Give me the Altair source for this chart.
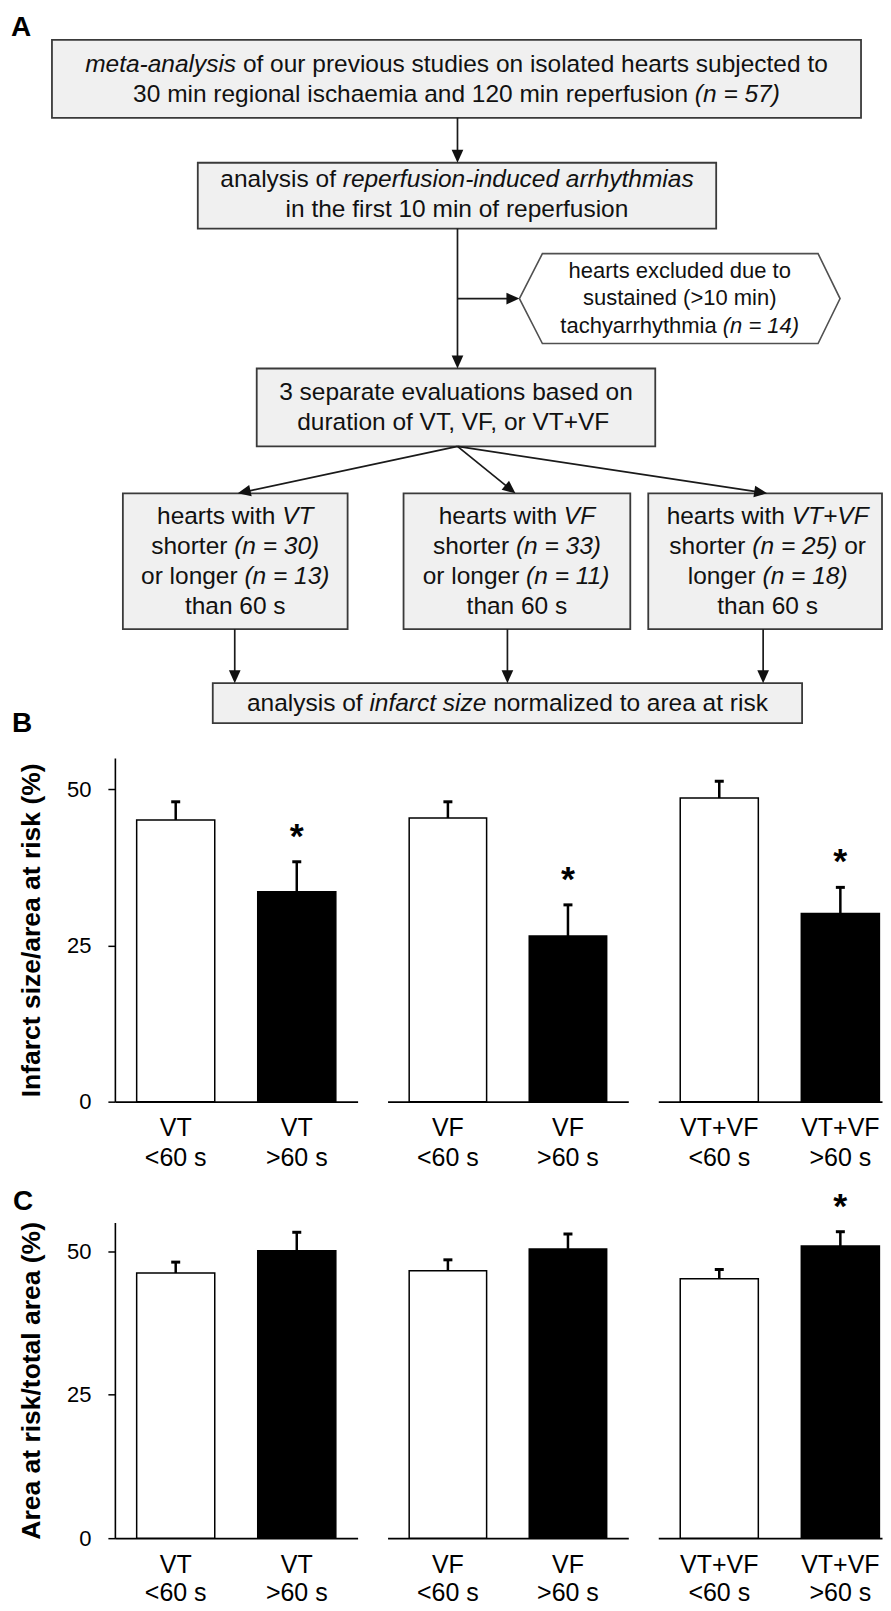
import math
import altair as alt
import pandas as pd

FONT = "Liberation Sans"

# ---------------- Panels B / C : values ----------------
groups = ["VT", "VF", "VT+VF"]
durations = ["<60 s", ">60 s"]
infarct_mean = [45.1, 33.6, 45.4, 26.5, 48.6, 30.1]
infarct_upper = [48.0, 38.4, 48.0, 31.5, 51.3, 34.3]
infarct_sig = [False, True, False, True, False, True]
risk_mean = [46.2, 50.1, 46.6, 50.4, 45.2, 50.9]
risk_upper = [48.1, 53.3, 48.5, 53.0, 46.8, 53.4]
risk_sig = [False, False, False, False, False, True]
y_ticks = [0, 25, 50]
y_max = 55
title_B = "Infarct size/area at risk (%)"
title_C = "Area at risk/total area (%)"

# ---------------- Panel A : flow-chart texts (segment, italic) ----------------
txt_start = [[("meta-analysis", True), (" of our previous studies on isolated hearts subjected to", False)],
             [("30 min regional ischaemia and 120 min reperfusion ", False), ("(n = 57)", True)]]
txt_arrh = [[("analysis of ", False), ("reperfusion-induced arrhythmias", True)],
            [("in the first 10 min of reperfusion", False)]]
txt_excl = [[("hearts excluded due to", False)],
            [("sustained (>10 min)", False)],
            [("tachyarrhythmia ", False), ("(n = 14)", True)]]
txt_eval = [[("3 separate evaluations based on", False)],
            [("duration of VT, VF, or VT+VF", False)]]
txt_vt = [[("hearts with ", False), ("VT", True)],
          [("shorter ", False), ("(n = 30)", True)],
          [("or longer ", False), ("(n = 13)", True)],
          [("than 60 s", False)]]
txt_vf = [[("hearts with ", False), ("VF", True)],
          [("shorter ", False), ("(n = 33)", True)],
          [("or longer ", False), ("(n = 11)", True)],
          [("than 60 s", False)]]
txt_vtvf = [[("hearts with ", False), ("VT+VF", True)],
            [("shorter ", False), ("(n = 25)", True), (" or", False)],
            [("longer ", False), ("(n = 18)", True)],
            [("than 60 s", False)]]
txt_final = [[("analysis of ", False), ("infarct size", True), (" normalized to area at risk", False)]]
panel_letters = ["A", "B", "C"]

# ---------------- Flow-chart layout (page coordinates) ----------------
box_layout = [
    (51, 861, 39, 117, 456, [64.3, 94.6], 24.5, txt_start),
    (197, 716, 162, 228, 456.5, [179.5, 209.5], 24.5, txt_arrh),
    (256, 655, 368, 446, 455.5, [392.7, 422.3], 24.5, txt_eval),
    (122, 347, 493, 629, 234.5, [517, 546.8, 576.5, 606.3], 24.5, txt_vt),
    (403, 630, 493, 629, 516.5, [517, 546.8, 576.5, 606.3], 24.5, txt_vf),
    (648, 882, 493, 629, 767.5, [517, 546.8, 576.5, 606.3], 24.5, txt_vtvf),
    (212, 802, 683, 723, 507, [704], 24.5, txt_final),
]
hex_pts = [(519, 298), (542, 253), (818, 253), (840, 298), (818, 343), (542, 343), (519, 298)]
hex_text = (679.5, [270, 297.5, 325], 22, txt_excl)
arrow_segs = [
    (457, 117, 457, 162), (457, 228, 457, 368), (457, 298, 519, 298),
    (457, 446, 237, 493), (457, 446, 515, 493), (457, 446, 767, 493),
    (234, 629, 234, 683), (507, 629, 507, 683), (763, 629, 763, 683),
]
letter_pos = [(10, 35, "A"), (11, 732, "B")]

# Arial / Liberation Sans advance widths (1/1000 em)
W = {' ': 278, '(': 333, ')': 333, '+': 584, ',': 278, '-': 333, '.': 278, '/': 278,
     '<': 584, '=': 584, '>': 584, 'A': 667, 'B': 667, 'C': 722, 'F': 611, 'T': 611, 'V': 667,
     'a': 556, 'b': 556, 'c': 500, 'd': 556, 'e': 556, 'f': 278, 'g': 556, 'h': 556, 'i': 222,
     'j': 222, 'k': 500, 'l': 222, 'm': 833, 'n': 556, 'o': 556, 'p': 556, 'q': 556, 'r': 333,
     's': 500, 't': 278, 'u': 556, 'v': 500, 'w': 722, 'x': 500, 'y': 500, 'z': 500}
for d in "0123456789":
    W[d] = 556


def tw(s, fs):
    return sum(W.get(c, 556) for c in s) * fs / 1000.0


text_rows = []


def add_text(cx, ys, fs, lines):
    for ly, segs in zip(ys, lines):
        total = sum(tw(s, fs) for s, _ in segs)
        x0 = cx - total / 2
        for s, it in segs:
            lead = len(s) - len(s.lstrip())
            t = s.strip()
            if t:
                text_rows.append({"x": x0 + tw(s[:lead], fs), "y": ly, "t": t, "fs": fs, "it": it})
            x0 += tw(s, fs)


for (x1, x2, y1, y2, cx, ys, fs, lines) in box_layout:
    add_text(cx, ys, fs, lines)
add_text(*hex_text)

boxes_df = pd.DataFrame([{"x1": b[0], "x2": b[1], "y1": b[2], "y2": b[3]} for b in box_layout])
hex_df = pd.DataFrame([{"x": p[0], "y": p[1], "i": i} for i, p in enumerate(hex_pts)])
text_df = pd.DataFrame(text_rows)

HEAD = 13.0
line_rows, head_rows = [], []
for (xa, ya, xb, yb) in arrow_segs:
    dx, dy = xb - xa, yb - ya
    L = math.hypot(dx, dy)
    ux, uy = dx / L, dy / L
    line_rows.append({"x": xa, "y": ya, "x2": xb - ux * (HEAD - 2), "y2": yb - uy * (HEAD - 2)})
    head_rows.append({"x": xb, "y": yb, "ang": math.degrees(math.atan2(-dx, dy)) % 360})
lines_df = pd.DataFrame(line_rows)
heads_df = pd.DataFrame(head_rows)
letters_df = pd.DataFrame([{"x": l[0], "y": l[1], "t": l[2]} for l in letter_pos])

# panel A plot area starts at the same x as the bar panels' y axis (page x 114)
XS = alt.Scale(domain=[114, 883], nice=False, zero=False)
YS = alt.Scale(domain=[745, 8], nice=False, zero=False)


def PX(f):
    return alt.X(f, type="quantitative", scale=XS, axis=None)


def PY(f):
    return alt.Y(f, type="quantitative", scale=YS, axis=None)


rects = alt.Chart(boxes_df).mark_rect(fill="#f0f0f0", stroke="#3a3a3a", strokeWidth=1.8, opacity=1).encode(
    x=PX("x1"), x2="x2:Q", y=PY("y1"), y2="y2:Q")
hexagon = alt.Chart(hex_df).mark_line(color="#505050", strokeWidth=1.6, strokeJoin="miter").encode(
    x=PX("x"), y=PY("y"), order="i:Q")
arrows = alt.Chart(lines_df).mark_rule(color="#1a1a1a", strokeWidth=1.7).encode(
    x=PX("x"), y=PY("y"), x2="x2:Q", y2="y2:Q")
heads = alt.Chart(heads_df).mark_point(
    shape="M0,0L-0.45,-1L0.45,-1Z", filled=True, size=(2 * HEAD) ** 2, color="#111111", opacity=1, strokeWidth=0
).encode(x=PX("x"), y=PY("y"), angle=alt.Angle("ang:Q", scale=None))
txt_reg = alt.Chart(text_df).transform_filter("!datum.it").mark_text(
    align="left", baseline="middle", font=FONT, color="#111111").encode(
    x=PX("x"), y=PY("y"), text="t:N", size=alt.Size("fs:Q", scale=None))
txt_it = alt.Chart(text_df).transform_filter("datum.it").mark_text(
    align="left", baseline="middle", font=FONT, fontStyle="italic", color="#111111").encode(
    x=PX("x"), y=PY("y"), text="t:N", size=alt.Size("fs:Q", scale=None))
letters = alt.Chart(letters_df).mark_text(
    align="left", baseline="alphabetic", font=FONT, fontWeight="bold", fontSize=28, color="black").encode(
    x=PX("x"), y=PY("y"), text="t:N")

panel_A = alt.layer(rects, hexagon, arrows, heads, txt_reg, txt_it, letters).properties(width=769, height=737)

# ---------------- bar panels ----------------
widths = [243, 241, 224]
pad_outer = [0.18, 0.18, 0.1015]
aligns = [0.5, 0.5, 0.894]


def make_group(means, uppers, sigs, gi, ytitle, height, letter, lab_pad, lab_lh):
    df = pd.DataFrame({
        "label": [f"{groups[gi]}|{d}" for d in durations],
        "dur": durations,
        "mean": means[2 * gi:2 * gi + 2],
        "upper": uppers[2 * gi:2 * gi + 2],
        "sig": sigs[2 * gi:2 * gi + 2],
    })
    first = gi == 0
    xaxis = alt.Axis(title=None, labelAngle=0, ticks=False, tickSize=0, domainColor="black", domainWidth=1.6,
                     labelFontSize=25, labelLineHeight=lab_lh, labelPadding=lab_pad, labelColor="black",
                     labelFont=FONT, labelExpr="split(datum.value, '|')")
    x = alt.X("label:N", sort=list(df["label"]), axis=xaxis,
              scale=alt.Scale(paddingInner=0.355, paddingOuter=pad_outer[gi], align=aligns[gi]))
    yscale = alt.Scale(domain=[0, y_max], nice=False)
    if first:
        yaxis = alt.Axis(values=y_ticks, title=ytitle, grid=False, tickSize=7, tickWidth=1.5, tickColor="black",
                         domainColor="black", domainWidth=1.6, labelFontSize=22, labelPadding=17,
                         labelColor="black", labelFont=FONT, titleFont=FONT, titleFontSize=26.5,
                         titleFontWeight="bold", titleColor="black", titlePadding=21)
    else:
        yaxis = None
    base = alt.Chart(df)
    bars = base.mark_bar(stroke="black", strokeWidth=1.5, opacity=1).encode(
        x=x, y=alt.Y("mean:Q", scale=yscale, axis=yaxis),
        fill=alt.Fill("dur:N", scale=alt.Scale(domain=durations, range=["white", "black"]), legend=None))
    err = base.mark_rule(color="black", strokeWidth=2.5, opacity=1).encode(
        x=x, y=alt.Y("mean:Q", scale=yscale, axis=yaxis), y2="upper:Q")
    cap = base.mark_tick(color="black", thickness=3, size=9, opacity=1).encode(
        x=x, y=alt.Y("upper:Q", scale=yscale, axis=yaxis))
    star = base.transform_filter("datum.sig").mark_text(
        text="*", fontSize=36, fontWeight="bold", baseline="alphabetic", dy=-14, font=FONT, color="black").encode(
        x=x, y=alt.Y("upper:Q", scale=yscale, axis=yaxis))
    layers = [bars, err, cap, star]
    if first:
        layers.append(base.mark_rule(color="white", strokeWidth=1).encode(
            x=alt.value(-106), x2=alt.value(-104), y=alt.value(150)))
        if letter:
            layers.append(alt.Chart(pd.DataFrame({"t": [letter]})).mark_text(
                align="left", baseline="alphabetic", font=FONT, fontWeight="bold", fontSize=28,
                color="black").encode(x=alt.value(-102), y=alt.value(-13), text="t:N"))
    return alt.layer(*layers).properties(width=widths[gi], height=height)


panel_B = alt.hconcat(*[make_group(infarct_mean, infarct_upper, infarct_sig, g, title_B, 344, None, 14, 30)
                        for g in range(3)], spacing=30)
panel_C = alt.hconcat(*[make_group(risk_mean, risk_upper, risk_sig, g, title_C, 316, panel_letters[2], 14, 28)
                        for g in range(3)], spacing=30)
panel_BC = alt.vconcat(panel_B, panel_C, spacing=17)

chart = alt.vconcat(panel_A, panel_BC, spacing=13).properties(
    padding=0, background="white"
).configure(font=FONT).configure_view(strokeWidth=0)

chart.save("out.html", embed_options={"renderer": "svg", "actions": False})
